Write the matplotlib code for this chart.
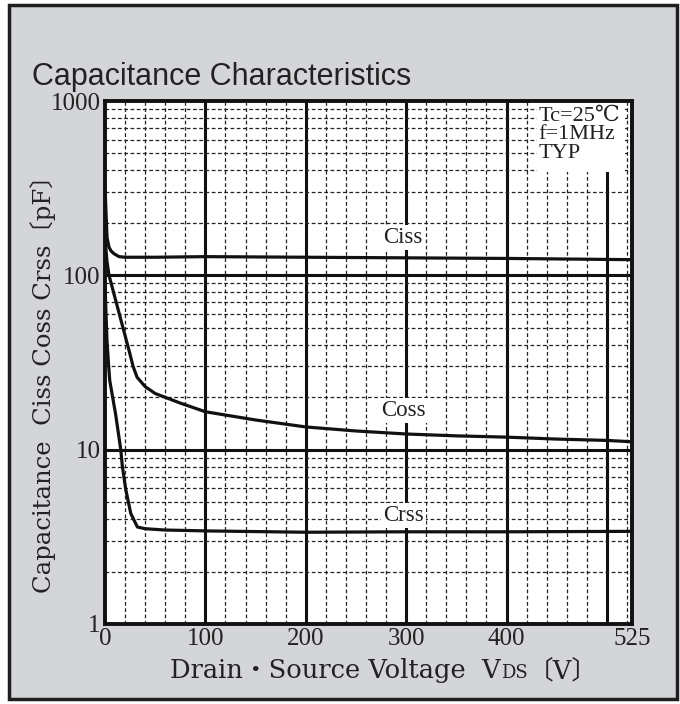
# capacitance_chart.py
# Capacitance vs drain-source voltage, recreated from a datasheet figure

import matplotlib
matplotlib.use("Agg")
import matplotlib.pyplot as plt
from matplotlib.patches import Rectangle
from matplotlib.ticker import FixedLocator, NullFormatter

# --- Data ---

ciss_v = [0, 1, 2, 4, 6, 9, 14, 20, 50, 100, 200, 300, 400, 525]
ciss_c = [330, 230, 165, 145, 138, 133, 128, 127, 127, 128, 127, 126, 125, 123]

coss_v = [0, 1, 2, 4, 8, 16, 24, 28, 32, 40, 50, 75, 100, 150, 200, 250, 300, 350, 400, 450, 500, 525]
coss_c = [175, 140, 120, 100, 82, 55, 37, 30, 26, 23, 21, 18.5, 16.5, 14.8, 13.5, 12.8, 12.3, 12.0, 11.8, 11.5, 11.3, 11.1]

crss_v = [0, 1, 2, 3.5, 4.7, 10.7, 15.7, 17.3, 20.7, 25.7, 32.3, 40, 60, 100, 200, 300, 400, 525]
crss_c = [90, 60, 42, 31, 25, 15.8, 10, 8.0, 5.9, 4.3, 3.6, 3.52, 3.46, 3.42, 3.36, 3.38, 3.38, 3.4]

x_ticks = [0, 100, 200, 300, 400, 525]
y_ticks = [1, 10, 100, 1000]
x_major_lines = [100, 200, 300, 400, 500]
y_major_lines = [10, 100]
x_minor_lines = [v for v in range(20, 525, 20) if v % 100 != 0]
y_minor_lines = [m * d for d in (1, 10, 100) for m in range(2, 10)]

SERIF = ["Liberation Serif", "DejaVu Serif", "Noto Sans CJK JP"]
WIDE_SERIF = ["DejaVu Serif", "Noto Sans CJK JP"]
SANS = ["Liberation Sans", "DejaVu Sans"]
INK = "#222222"

# --- Figure and gray panel ---

fig = plt.figure(figsize=(6.8, 7.04), dpi=100)
fig.patch.set_facecolor("white")
panel = Rectangle((9 / 680, 1 - 699 / 704), (677 - 9) / 680, (699 - 5) / 704,
                  transform=fig.transFigure, facecolor="#d3d5d8",
                  edgecolor="#1e1e1e", linewidth=2.5, zorder=-10)
fig.patches.append(panel)

ax = fig.add_axes([105 / 680, 1 - 624 / 704, (632 - 105) / 680, (624 - 101) / 704])
ax.set_facecolor("white")
ax.set_yscale("log")
ax.set_xlim(0, 525)
ax.set_ylim(1, 1000)

# --- Grid ---
ax.xaxis.set_minor_locator(FixedLocator(x_minor_lines))
ax.yaxis.set_minor_locator(FixedLocator(y_minor_lines))
ax.yaxis.set_minor_formatter(NullFormatter())
ax.grid(which="minor", color="#222222", linestyle=(0, (3, 2)), linewidth=0.9)
for v in x_major_lines:
    ax.axvline(v, color="#111111", linewidth=2.2, zorder=1)
for c in y_major_lines:
    ax.axhline(c, color="#111111", linewidth=2.2, zorder=1)

for s in ax.spines.values():
    s.set_linewidth(2.8)
    s.set_color("#111111")
    s.set_zorder(5)

ax.set_xticks(x_ticks)
ax.set_xticklabels([str(t) for t in x_ticks], family=SERIF, fontsize=18)
ax.set_yticks(y_ticks)
ax.set_yticklabels([str(t) for t in y_ticks], family=SERIF, fontsize=18)
ax.tick_params(which="both", length=0, pad=3, colors=INK)

# --- Curves ---
ax.plot(ciss_v, ciss_c, color="#111111", linewidth=2.3, zorder=3)
ax.plot(coss_v, coss_c, color="#111111", linewidth=2.3, zorder=3)
ax.plot(crss_v, crss_c, color="#111111", linewidth=2.3, zorder=3)

box = dict(facecolor="white", edgecolor="none", pad=1.5)
ax.text(297, 165, "Ciss", family=SERIF, fontsize=16.5, color=INK, ha="center", va="center", bbox=box, zorder=4)
ax.text(297, 16.8, "Coss", family=SERIF, fontsize=16.5, color=INK, ha="center", va="center", bbox=box, zorder=4)
ax.text(297, 4.2, "Crss", family=SERIF, fontsize=16.5, color=INK, ha="center", va="center", bbox=box, zorder=4)

# conditions note sits on a white patch that hides the grid
ax.add_patch(Rectangle((0.82, 0.864), 0.167, 0.136, transform=ax.transAxes,
                       facecolor="white", edgecolor="none", zorder=4))
ax.text(432, 930, "Tc=25℃\nf=1MHz\nTYP", family=SERIF, fontsize=16, color=INK, ha="left", va="top",
        linespacing=0.98, zorder=4.5)

# --- Titles and axis labels ---
fig.text(32 / 680, 1 - 85 / 704, "Capacitance Characteristics", family=SANS,
         fontsize=22, color=INK, ha="left", va="baseline")

fig.text(43 / 680, 1 - 378 / 704, "Capacitance  Ciss Coss Crss〔pF〕", family=WIDE_SERIF,
         fontsize=17.5, color=INK, rotation=90, ha="center", va="center")

# x label built from pieces so "DS" can be set smaller
renderer = fig.canvas.get_renderer()
x0 = 170
base_y = 1 - 678 / 704
pieces = [("Drain・Source Voltage  V", 18.5), ("DS", 13), ("〔V〕", 18.5)]
for txt, fs in pieces:
    t = fig.text(x0 / 680, base_y, txt, family=WIDE_SERIF, fontsize=fs, color=INK,
                 ha="left", va="baseline")
    x0 += t.get_window_extent(renderer).width

fig.savefig("out.png", dpi=100)
